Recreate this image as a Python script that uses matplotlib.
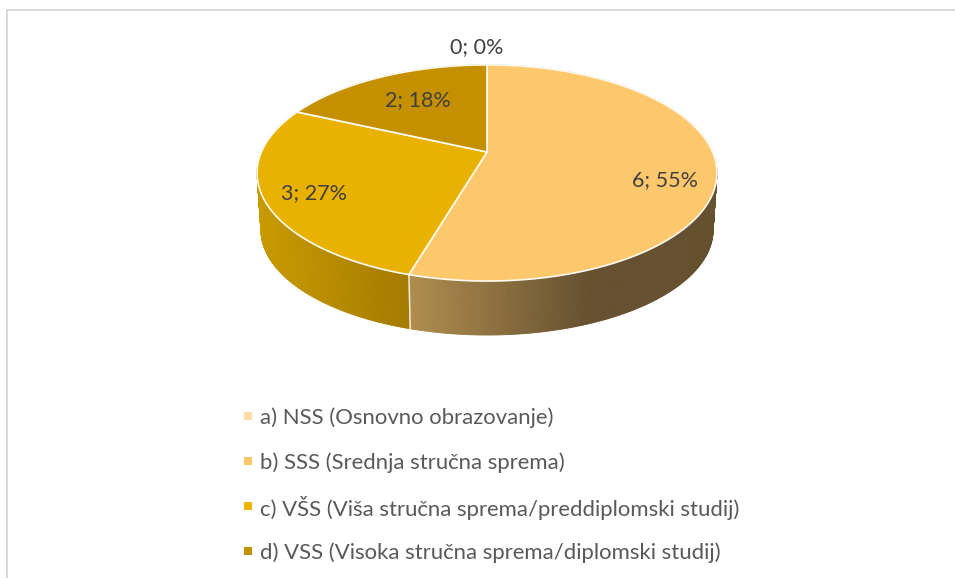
import numpy as np
import matplotlib
matplotlib.use("Agg")
import matplotlib.pyplot as plt
from matplotlib.patches import Polygon, Rectangle
from matplotlib.lines import Line2D
from matplotlib.colors import to_rgb

categories = ["a) NSS (Osnovno obrazovanje)",
              "b) SSS (Srednja stručna sprema)",
              "c) VŠS (Viša stručna sprema/preddiplomski studij)",
              "d) VSS (Visoka stručna sprema/diplomski studij)"]
values = [0, 6, 3, 2]
top_colors = ["#FFD9A6", "#FDC76B", "#EAB200", "#C49000"]
legend_colors = ["#FFD9A6", "#FDC76B", "#EFB300", "#C49000"]
wall_grads = [None, ("#B08D4E", "#655030"), ("#C89A00", "#A47A00"), ("#8A6A00", "#8A6A00")]
label_pos = [(477, 47), (665, 180), (314, 193), (418, 100)]
legend_y = [416, 461, 506, 551]

W, H = 955, 578
fig = plt.figure(figsize=(W / 100, H / 100), dpi=100, facecolor="white")
ax = fig.add_axes([0, 0, 1, 1])
ax.set_xlim(0, W); ax.set_ylim(H, 0); ax.axis("off")
plt.rcParams["font.family"] = ["Lato", "DejaVu Sans"]

# perspective projection of the pie disc
CX, CY = 487, 152
K, A, B = 0.194, 104.0, 225.6
ELL_Y, RY_TOP, RY_LOW, LOW_Y, LOW_X = 173.0, 108.0, 105.0, 230.0, 0.983

def rim(theta):
    u, v = np.sin(theta), np.cos(theta)
    d = 1 + K * v
    return B * u / d, -A * v / d + CY

def low(xr, yr):
    return xr * LOW_X + CX, LOW_Y + (yr - ELL_Y) * RY_LOW / RY_TOP

def mix(a, b, t):
    a, b = np.array(to_rgb(a)), np.array(to_rgb(b))
    return tuple(a + (b - a) * float(np.clip(t, 0, 1)))

fr = np.array(values, float) / sum(values)
edges = np.concatenate([[0], np.cumsum(fr)]) * 2 * np.pi

# side walls
for i, val in enumerate(values):
    if val == 0:
        continue
    th = np.linspace(edges[i], edges[i + 1], max(int((edges[i + 1] - edges[i]) * 110), 2))
    xr, yr = rim(th)
    xl, yl = low(xr, yr)
    x0, x1 = (410, 590) if i == 1 else (258, 410)
    for j in range(len(th) - 1):
        quad = [(xr[j] + CX, yr[j]), (xr[j + 1] + CX, yr[j + 1]), (xl[j + 1], yl[j + 1]), (xl[j], yl[j])]
        t = ((xr[j] + CX) - x0) / (x1 - x0)
        c = mix(*wall_grads[i], t)
        ax.add_patch(Polygon(quad, closed=True, fc=c, ec=c, lw=0.6, zorder=2))

# wall separator at the front edge between b and c
xb, yb = rim(edges[2])
xlb, ylb = low(xb, yb)
ax.add_line(Line2D([xb + CX, xlb], [yb, ylb], color="#F4EEE0", lw=1.1, zorder=3))

# top faces
for i, val in enumerate(values):
    if val == 0:
        continue
    th = np.linspace(edges[i], edges[i + 1], 240)
    xr, yr = rim(th)
    pts = np.column_stack([np.r_[CX, xr + CX], np.r_[CY, yr]])
    ax.add_patch(Polygon(pts, closed=True, fc=top_colors[i], ec="#FFFBF2", lw=1.2, zorder=4, joinstyle="round"))

# data labels
for v, f, p in zip(values, fr, label_pos):
    ax.text(p[0], p[1], f"{v}; {round(f * 100)}%", ha="center", va="center",
            fontsize=15.5, color="#404040", zorder=6)

# legend
for name, col, y in zip(categories, legend_colors, legend_y):
    ax.add_patch(Rectangle((244, y - 4), 8, 8, fc=col, ec="none", zorder=5))
    ax.text(260, y + 1.5, name, ha="left", va="center", fontsize=15.9, color="#595959", zorder=6)

# chart frame (top and left edges visible)
ax.add_line(Line2D([6.5, 6.5], [9.5, H], color="#D9D9D9", lw=1.4))
ax.add_line(Line2D([6.5, W], [9.5, 9.5], color="#D9D9D9", lw=1.4))

fig.savefig("out.png", dpi=100, facecolor="white")
